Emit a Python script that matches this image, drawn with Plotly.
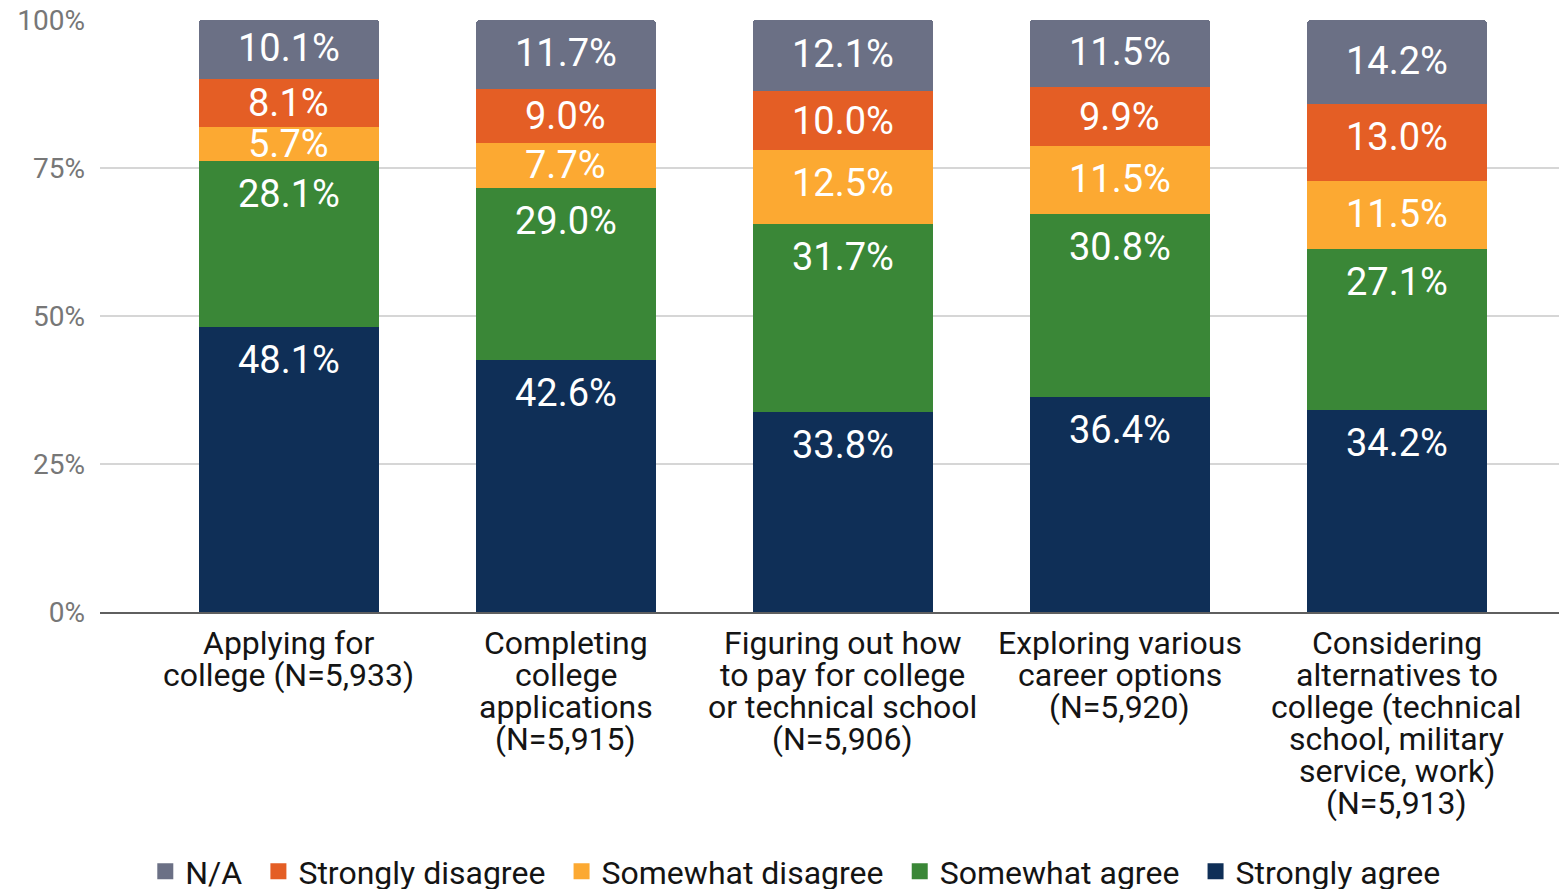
import plotly.graph_objects as go

categories = [
    "Applying for<br>college (N=5,933)",
    "Completing<br>college<br>applications<br>(N=5,915)",
    "Figuring out how<br>to pay for college<br>or technical school<br>(N=5,906)",
    "Exploring various<br>career options<br>(N=5,920)",
    "Considering<br>alternatives to<br>college (technical<br>school, military<br>service, work)<br>(N=5,913)",
]

# series from bottom to top of each stack
strongly_agree = [48.1, 42.6, 33.8, 36.4, 34.2]
somewhat_agree = [28.1, 29.0, 31.7, 30.8, 27.1]
somewhat_disagree = [5.7, 7.7, 12.5, 11.5, 11.5]
strongly_disagree = [8.1, 9.0, 10.0, 9.9, 13.0]
not_applicable = [10.1, 11.7, 12.1, 11.5, 14.2]

series_names = ["Strongly agree", "Somewhat agree", "Somewhat disagree", "Strongly disagree", "N/A"]
series_values = [strongly_agree, somewhat_agree, somewhat_disagree, strongly_disagree, not_applicable]
series_colors = ["#0f2f57", "#3a8737", "#fca932", "#e45e25", "#6b7085"]

y_ticks = [0, 25, 50, 75, 100]
y_tick_text = ["0%", "25%", "50%", "75%", "100%"]

fig = go.Figure()

for name, vals, col in zip(series_names, series_values, series_colors):
    fig.add_trace(go.Bar(
        x=categories, y=vals, name=name, marker=dict(color=col, line=dict(width=0)),
        width=0.65, showlegend=False, hoverinfo="skip",
    ))

# legend entries (order: N/A first)
legend_items = list(reversed(list(zip(series_names, series_colors))))
for idx, (name, col) in enumerate(legend_items):
    pad = "\u00a0\u200a" if idx < len(legend_items) - 1 else ""
    fig.add_trace(go.Scatter(
        x=[None], y=[None], mode="markers", name=name + pad,
        marker=dict(symbol="square", size=18, color=col),
    ))

annotations = []
# value labels
px_per_unit = 592 / 100.0
cap_offset = 33 / px_per_unit
for i, cat in enumerate(categories):
    base = 0.0
    for j, vals in enumerate(series_values):
        v = vals[i]
        top = base + v
        top_c = min(top, 100.0)
        h = top_c - base
        if j == len(series_values) - 1:
            yc = top_c - h / 2 + 1.5 / px_per_unit
        else:
            yc = top_c - min(h / 2, cap_offset)
        annotations.append(dict(
            x=cat, y=yc, xref="x", yref="y", text=f"{v:.1f}%", showarrow=False,
            yanchor="middle", xanchor="center",
            font=dict(family="Roboto", size=38, color="white"),
        ))
        base = top

# category labels, one annotation per line
for cat in categories:
    for k, line in enumerate(cat.split("<br>")):
        annotations.append(dict(
            x=cat, y=0, xref="x", yref="paper", text=line, showarrow=False,
            yanchor="middle", xanchor="center", yshift=-(31 + 32 * k),
            font=dict(family="Roboto", size=32, color="#141414"),
        ))

fig.update_layout(
    width=1559, height=881,
    margin=dict(l=92, r=0, t=12, b=277, autoexpand=False),
    paper_bgcolor="white", plot_bgcolor="white",
    barmode="stack",
    barcornerradius=4,
    font=dict(family="Roboto", color="#141414"),
    annotations=annotations,
    xaxis=dict(
        type="category", categoryorder="array", categoryarray=categories,
        range=[-0.682, 4.614], showticklabels=False, showgrid=False, zeroline=False,
        showline=True, linecolor="#5f5f5f", linewidth=1.5, ticks="",
    ),
    yaxis=dict(
        range=[0, 100], tickmode="array", tickvals=y_ticks, ticktext=y_tick_text,
        showgrid=True, gridcolor="#d6d6d6", gridwidth=1.5, zeroline=False, showline=False,
        tickfont=dict(family="Roboto", size=28, color="#777777"),
        ticklabelstandoff=14, ticklabeloverflow="allow",
    ),
    legend=dict(
        orientation="h", xref="container", yref="container", traceorder="normal",
        x=0.505, xanchor="center", y=0.02, yanchor="middle",
        font=dict(family="Roboto", size=32, color="#141414"),
        bgcolor="rgba(0,0,0,0)",
    ),
)

fig.write_html("out.html")
